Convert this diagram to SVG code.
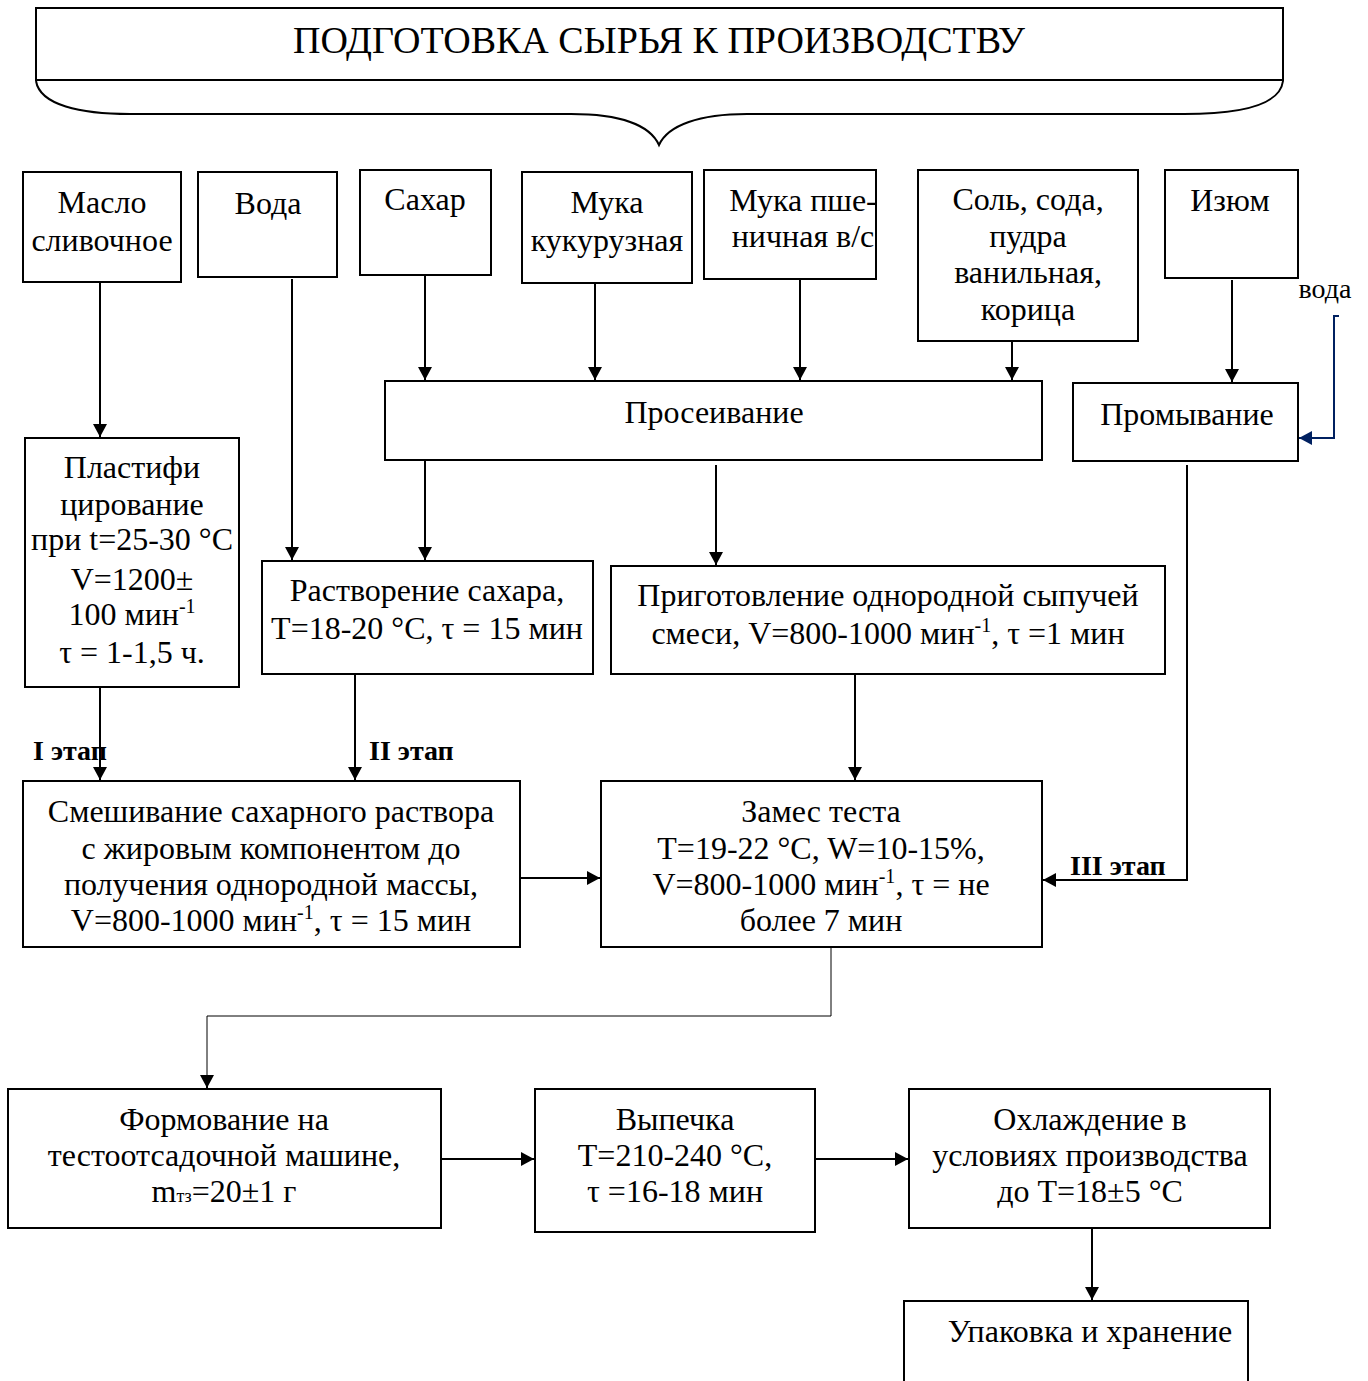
<svg xmlns="http://www.w3.org/2000/svg" width="1368" height="1381" viewBox="0 0 1368 1381">
<defs>
<style>
.box{fill:#fff;stroke:#000;stroke-width:2}
.t{font-family:"Liberation Serif","Times New Roman",serif;font-size:32px;fill:#000;text-anchor:middle}
.b{font-family:"Liberation Serif","Times New Roman",serif;font-size:28px;font-weight:bold;fill:#000}
.c{fill:none;stroke:#000;stroke-width:2}
.thin{fill:none;stroke:#000;stroke-width:1}
.sup{font-size:20px}
</style>
<marker id="ah" viewBox="0 0 13 14" refX="13" refY="7" markerWidth="13" markerHeight="14" markerUnits="userSpaceOnUse" orient="auto">
<path d="M0,0 L13,7 L0,14 Z" fill="#000"/>
</marker>
<marker id="ahb" viewBox="0 0 13 14" refX="13" refY="7" markerWidth="13" markerHeight="14" markerUnits="userSpaceOnUse" orient="auto">
<path d="M0,0 L13,7 L0,14 Z" fill="#002060"/>
</marker>
</defs>
<rect width="1368" height="1381" fill="#fff"/>

<g id="header">
<rect class="box" x="36" y="8" width="1247" height="72"/>
<path class="c" d="M36,81 C40,105 80,114 130,114 L571,114 C620,114 650,125 659,145 C668,125 700,114 747,114 L1184,114 C1240,114 1280,105 1283,81"/>
<text class="t" x="659" y="53" style="font-size:38px">ПОДГОТОВКА СЫРЬЯ К ПРОИЗВОДСТВУ</text>
</g>

<g id="maslo"><rect class="box" x="23" y="172" width="158" height="110"/>
<text class="t" x="102" y="213">Масло</text><text class="t" x="102" y="251">сливочное</text></g>
<g id="voda"><rect class="box" x="198" y="172" width="139" height="105"/>
<text class="t" x="268" y="214">Вода</text></g>
<g id="sahar"><rect class="box" x="360" y="170" width="131" height="105"/>
<text class="t" x="425" y="210">Сахар</text></g>
<g id="muka-kuk"><rect class="box" x="522" y="172" width="170" height="111"/>
<text class="t" x="607" y="213">Мука</text><text class="t" x="607" y="251">кукурузная</text></g>
<g id="muka-psh"><rect class="box" x="704" y="170" width="172" height="109"/>
<text class="t" x="803" y="211">Мука пше-</text><text class="t" x="803" y="247">ничная в/с</text></g>
<g id="sol"><rect class="box" x="918" y="170" width="220" height="171"/>
<text class="t" x="1028" y="210">Соль, сода,</text><text class="t" x="1028" y="247">пудра</text><text class="t" x="1028" y="283">ванильная,</text><text class="t" x="1028" y="320">корица</text></g>
<g id="izum"><rect class="box" x="1165" y="170" width="133" height="108"/>
<text class="t" x="1230" y="211">Изюм</text></g>

<g id="proseiv"><rect class="box" x="385" y="381" width="657" height="79"/>
<text class="t" x="714" y="423">Просеивание</text></g>
<g id="promyv"><rect class="box" x="1073" y="383" width="225" height="78"/>
<text class="t" x="1187" y="425">Промывание</text></g>
<g id="voda-label"><text class="t" x="1325" y="298" style="font-size:28px">вода</text></g>

<g id="plast"><rect class="box" x="25" y="438" width="214" height="249"/>
<text class="t" x="132" y="478">Пластифи</text>
<text class="t" x="132" y="515">цирование</text>
<text class="t" x="132" y="550">при t=25-30 °C</text>
<text class="t" x="132" y="590">V=1200±</text>
<text class="t" x="132" y="625">100 мин<tspan class="sup" dy="-12">-1</tspan></text>
<text class="t" x="132" y="663">τ = 1-1,5 ч.</text></g>

<g id="rastv"><rect class="box" x="262" y="561" width="331" height="113"/>
<text class="t" x="427" y="601">Растворение сахара,</text>
<text class="t" x="427" y="639">T=18-20 °C, τ = 15 мин</text></g>

<g id="prigot"><rect class="box" x="611" y="566" width="554" height="108"/>
<text class="t" x="888" y="606">Приготовление однородной сыпучей</text>
<text class="t" x="888" y="644">смеси, V=800-1000 мин<tspan class="sup" dy="-12">-1</tspan><tspan dy="12">, τ =1 мин</tspan></text></g>

<g id="smesh"><rect class="box" x="23" y="781" width="497" height="166"/>
<text class="t" x="271" y="822">Смешивание сахарного раствора</text>
<text class="t" x="271" y="859">с жировым компонентом до</text>
<text class="t" x="271" y="895">получения однородной массы,</text>
<text class="t" x="271" y="931">V=800-1000 мин<tspan class="sup" dy="-12">-1</tspan><tspan dy="12">, τ = 15 мин</tspan></text></g>

<g id="zames"><rect class="box" x="601" y="781" width="441" height="166"/>
<text class="t" x="821" y="822">Замес теста</text>
<text class="t" x="821" y="859">T=19-22 °C, W=10-15%,</text>
<text class="t" x="821" y="895">V=800-1000 мин<tspan class="sup" dy="-12">-1</tspan><tspan dy="12">, τ = не</tspan></text>
<text class="t" x="821" y="931">более 7 мин</text></g>

<g id="form"><rect class="box" x="8" y="1089" width="433" height="139"/>
<text class="t" x="224" y="1130">Формование на</text>
<text class="t" x="224" y="1166">тестоотсадочной машине,</text>
<text class="t" x="224" y="1202">m<tspan style="font-size:18px">тз</tspan>=20±1 г</text></g>

<g id="vypech"><rect class="box" x="535" y="1089" width="280" height="143"/>
<text class="t" x="675" y="1130">Выпечка</text>
<text class="t" x="675" y="1166">T=210-240 °C,</text>
<text class="t" x="675" y="1202">τ =16-18 мин</text></g>

<g id="ohlazh"><rect class="box" x="909" y="1089" width="361" height="139"/>
<text class="t" x="1090" y="1130">Охлаждение в</text>
<text class="t" x="1090" y="1166">условиях производства</text>
<text class="t" x="1090" y="1202">до T=18±5 °C</text></g>

<g id="upak"><path class="c" d="M904,1385 L904,1301 L1248,1301 L1248,1385"/>
<text class="t" x="1090" y="1342">Упаковка и хранение</text></g>

<g id="connectors">
<line class="c" x1="100" y1="283" x2="100" y2="437" marker-end="url(#ah)"/>
<line class="c" x1="292" y1="279" x2="292" y2="560" marker-end="url(#ah)"/>
<line class="c" x1="425" y1="276" x2="425" y2="380" marker-end="url(#ah)"/>
<line class="c" x1="595" y1="284" x2="595" y2="380" marker-end="url(#ah)"/>
<line class="c" x1="800" y1="280" x2="800" y2="380" marker-end="url(#ah)"/>
<line class="c" x1="1012" y1="342" x2="1012" y2="380" marker-end="url(#ah)"/>
<line class="c" x1="1232" y1="280" x2="1232" y2="382" marker-end="url(#ah)"/>
<path d="M1339,316 L1334,316 L1334,438 L1299,438" fill="none" stroke="#002060" stroke-width="2" marker-end="url(#ahb)"/>
<line class="c" x1="425" y1="461" x2="425" y2="560" marker-end="url(#ah)"/>
<line class="c" x1="716" y1="465" x2="716" y2="565" marker-end="url(#ah)"/>
<line class="c" x1="100" y1="688" x2="100" y2="780" marker-end="url(#ah)"/>
<line class="c" x1="355" y1="675" x2="355" y2="780" marker-end="url(#ah)"/>
<line class="c" x1="855" y1="675" x2="855" y2="780" marker-end="url(#ah)"/>
<line class="c" x1="521" y1="878" x2="600" y2="878" marker-end="url(#ah)"/>
<path class="c" d="M1187,465 L1187,880 L1043,880" marker-end="url(#ah)"/>
<path class="thin" d="M831,948 L831,1016 L207,1016 L207,1076"/>
<line class="c" x1="207" y1="1075" x2="207" y2="1088" marker-end="url(#ah)"/>
<line class="c" x1="442" y1="1159" x2="534" y2="1159" marker-end="url(#ah)"/>
<line class="c" x1="816" y1="1159" x2="908" y2="1159" marker-end="url(#ah)"/>
<line class="c" x1="1092" y1="1229" x2="1092" y2="1300" marker-end="url(#ah)"/>
<text class="b" x="33" y="760">I этап</text>
<text class="b" x="369" y="760">II этап</text>
<text class="b" x="1070" y="875">III этап</text>
</g>
</svg>
